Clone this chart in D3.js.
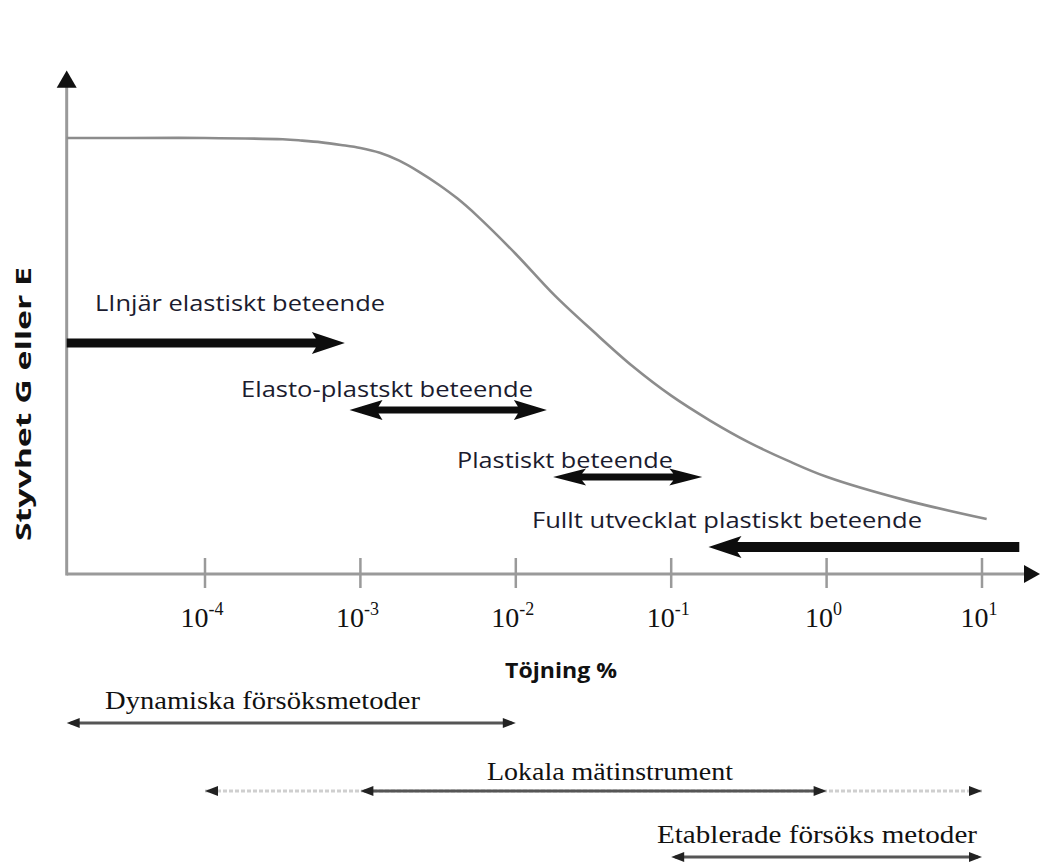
<!DOCTYPE html>
<html>
<head>
<meta charset="utf-8">
<script src="https://cdn.jsdelivr.net/npm/d3@7"></script>
<style>
  body { margin: 0; background: #fff; }
  svg { display: block; }
</style>
</head>
<body>
<svg id="chart" width="1040" height="866"></svg>
<script>
// Stiffness degradation: strain (%) as log10 exponent vs normalised stiffness
const strainExp = [-4.89, -4.5, -4, -3.5, -3.375, -3.25, -3.125, -3, -2.875, -2.75, -2.625, -2.5, -2.375, -2.25, -2, -1.75, -1.5, -1.25, -1, -0.75, -0.5, -0.25, 0, 0.5, 1.03];
const stiffness = [1.0, 1.0, 1.0, 0.997, 0.994, 0.990, 0.984, 0.977, 0.966, 0.948, 0.923, 0.894, 0.861, 0.822, 0.734, 0.639, 0.556, 0.477, 0.409, 0.352, 0.302, 0.260, 0.223, 0.170, 0.126];

// Strain axis ticks (powers of ten)
const tickExp = [-4, -3, -2, -1, 0, 1];
const tickSup = ["-4", "-3", "-2", "-1", "0", "1"];

// Behaviour zones along the strain axis (log10 bounds)
const behaviourNames = ["LInjär elastiskt beteende", "Elasto-plastskt beteende", "Plastiskt beteende", "Fullt utvecklat plastiskt beteende"];
const behaviourFrom = [-4.89, -3.07, -1.76, -0.76];
const behaviourTo = [-3.1, -1.8, -0.8, 1.24];
const behaviourHeads = ["end", "both", "both", "start"];

// Test methods and their strain ranges (log10 bounds)
const methodNames = ["Dynamiska försöksmetoder", "Lokala mätinstrument", "Etablerade försöks metoder"];
const methodFrom = [-4.89, -4, -1];
const methodTo = [-2, 1, 1];
const methodCoreFrom = [-4.89, -3, -1];
const methodCoreTo = [-2, 0, 1];

const svg = d3.select("#chart");

const x = d3.scaleLog().domain([1e-4, 1e1]).range([205, 982]);
const y = d3.scaleLinear().domain([0, 1]).range([574, 138]);
const X0 = x(Math.pow(10, -4.89));

const AXIS = "#9a9a9a";
const INK = "#1b1b2e";

// ---- axes ----
svg.append("line").attr("x1", X0).attr("x2", 1026).attr("y1", y(0)).attr("y2", y(0))
  .attr("stroke", AXIS).attr("stroke-width", 3);
svg.append("line").attr("x1", X0).attr("x2", X0).attr("y1", y(0) + 1.5).attr("y2", y(1.12))
  .attr("stroke", AXIS).attr("stroke-width", 3);
// arrow tips
svg.append("path").attr("fill", "#111")
  .attr("d", `M${X0},${y(1.155)} L${X0 + 10},${y(1.115)} L${X0 - 10},${y(1.115)} Z`);
svg.append("path").attr("fill", "#111")
  .attr("d", `M1040,${y(0)} L1024,${y(0) - 9} L1024,${y(0) + 9} Z`);

// tick marks
svg.append("g").selectAll("line").data(tickExp).join("line")
  .attr("x1", d => x(Math.pow(10, d))).attr("x2", d => x(Math.pow(10, d)))
  .attr("y1", y(0) - 16).attr("y2", y(0) + 14)
  .attr("stroke", AXIS).attr("stroke-width", 2.5);

// tick labels 10^n
const tl = svg.append("g").selectAll("text").data(tickExp).join("text")
  .attr("x", d => x(Math.pow(10, d)) - 3).attr("y", 627)
  .attr("text-anchor", "middle")
  .attr("font-family", "'Liberation Serif', 'Times New Roman', serif")
  .attr("font-size", 28).attr("fill", "#111");
tl.append("tspan").text("10");
tl.append("tspan").attr("dy", -12).attr("font-size", 18).text((d, i) => tickSup[i]);

// ---- stiffness curve ----
const curve = strainExp.map((e, i) => [Math.pow(10, e), stiffness[i]]);
svg.append("path").datum(curve)
  .attr("fill", "none").attr("stroke", "#8c8c8c").attr("stroke-width", 2.6)
  .attr("d", d3.line().x(d => x(d[0])).y(d => y(d[1])).curve(d3.curveCatmullRom.alpha(0.5)));

// ---- arrows ----
function arrowPath(x1, x2, yc, shaft, hl, hh, heads) {
  const s = shaft / 2, h = hh / 2, n = 4;
  const L = heads === "start" || heads === "both";
  const R = heads === "end" || heads === "both";
  const pts = [];
  if (L) { pts.push([x1, yc], [x1 + hl, yc - h], [x1 + hl - n, yc - s]); }
  else pts.push([x1, yc - s]);
  if (R) { pts.push([x2 - hl + n, yc - s], [x2 - hl, yc - h], [x2, yc], [x2 - hl, yc + h], [x2 - hl + n, yc + s]); }
  else pts.push([x2, yc - s], [x2, yc + s]);
  if (L) { pts.push([x1 + hl - n, yc + s], [x1 + hl, yc + h]); }
  else pts.push([x1, yc + s]);
  return "M" + pts.map(p => p.join(",")).join("L") + "Z";
}

const behaviourY = [343, 410, 477, 547];
const behaviourShaft = [9, 7, 7, 10];
const behaviourHeadH = [22, 20, 17, 22];
const behaviourLabelX = [95, 241, 457, 532];
const behaviourLabelY = [311, 397, 468, 528];
const behaviourLabelW = [290, 292, 216, 390];

const bg = svg.append("g");
behaviourNames.forEach((name, i) => {
  bg.append("path")
    .attr("d", arrowPath(x(Math.pow(10, behaviourFrom[i])), x(Math.pow(10, behaviourTo[i])),
      behaviourY[i], behaviourShaft[i], 33, behaviourHeadH[i], behaviourHeads[i]))
    .attr("fill", "#0d0d0d");
  bg.append("text")
    .attr("x", behaviourLabelX[i]).attr("y", behaviourLabelY[i])
    .attr("font-family", "'Open Sans', 'Noto Sans', sans-serif")
    .attr("font-size", 22).attr("fill", INK)
    .attr("textLength", behaviourLabelW[i]).attr("lengthAdjust", "spacingAndGlyphs")
    .text(name);
});

// ---- axis titles ----
svg.append("text")
  .attr("x", 505).attr("y", 678)
  .attr("font-family", "'Open Sans', sans-serif").attr("font-weight", 700)
  .attr("font-size", 21).attr("fill", "#111")
  .attr("textLength", 112).attr("lengthAdjust", "spacingAndGlyphs")
  .text("Töjning %");

svg.append("text")
  .attr("transform", "translate(31,404) rotate(-90)")
  .attr("text-anchor", "middle")
  .attr("font-family", "'Open Sans', sans-serif").attr("font-weight", 700)
  .attr("font-size", 21).attr("fill", "#111")
  .attr("textLength", 274).attr("lengthAdjust", "spacingAndGlyphs")
  .text("Styvhet G eller E");

// ---- test method ranges ----
const methodY = [723, 791, 857];
const methodLabelX = [105, 487, 657];
const methodLabelY = [709, 780, 843];
const methodLabelW = [315, 246, 320];

function smallHead(g, xt, yc, dir) {
  g.append("path").attr("fill", "#222")
    .attr("d", `M${xt},${yc} L${xt - dir * 13},${yc - 5} L${xt - dir * 13},${yc + 5} Z`);
}

const mg = svg.append("g");
methodNames.forEach((name, i) => {
  const a = x(Math.pow(10, methodFrom[i])), b = x(Math.pow(10, methodTo[i]));
  const ca = x(Math.pow(10, methodCoreFrom[i])), cb = x(Math.pow(10, methodCoreTo[i]));
  const yc = methodY[i];
  // faint outer range
  if (ca > a || cb < b) {
    mg.append("line").attr("x1", a).attr("x2", b).attr("y1", yc).attr("y2", yc)
      .attr("stroke", "#cfcfcf").attr("stroke-width", 3).attr("stroke-dasharray", "4,2");
    smallHead(mg, a, yc, -1);
    smallHead(mg, b, yc, 1);
  }
  // main range
  mg.append("line").attr("x1", ca + 4).attr("x2", cb - 4).attr("y1", yc).attr("y2", yc)
    .attr("stroke", "#555").attr("stroke-width", 3);
  smallHead(mg, ca, yc, -1);
  smallHead(mg, cb, yc, 1);
  mg.append("text")
    .attr("x", methodLabelX[i]).attr("y", methodLabelY[i])
    .attr("font-family", "'Liberation Serif', 'Times New Roman', serif")
    .attr("font-size", 26).attr("fill", "#111")
    .attr("textLength", methodLabelW[i]).attr("lengthAdjust", "spacingAndGlyphs")
    .text(name);
});
</script>
</body>
</html>
